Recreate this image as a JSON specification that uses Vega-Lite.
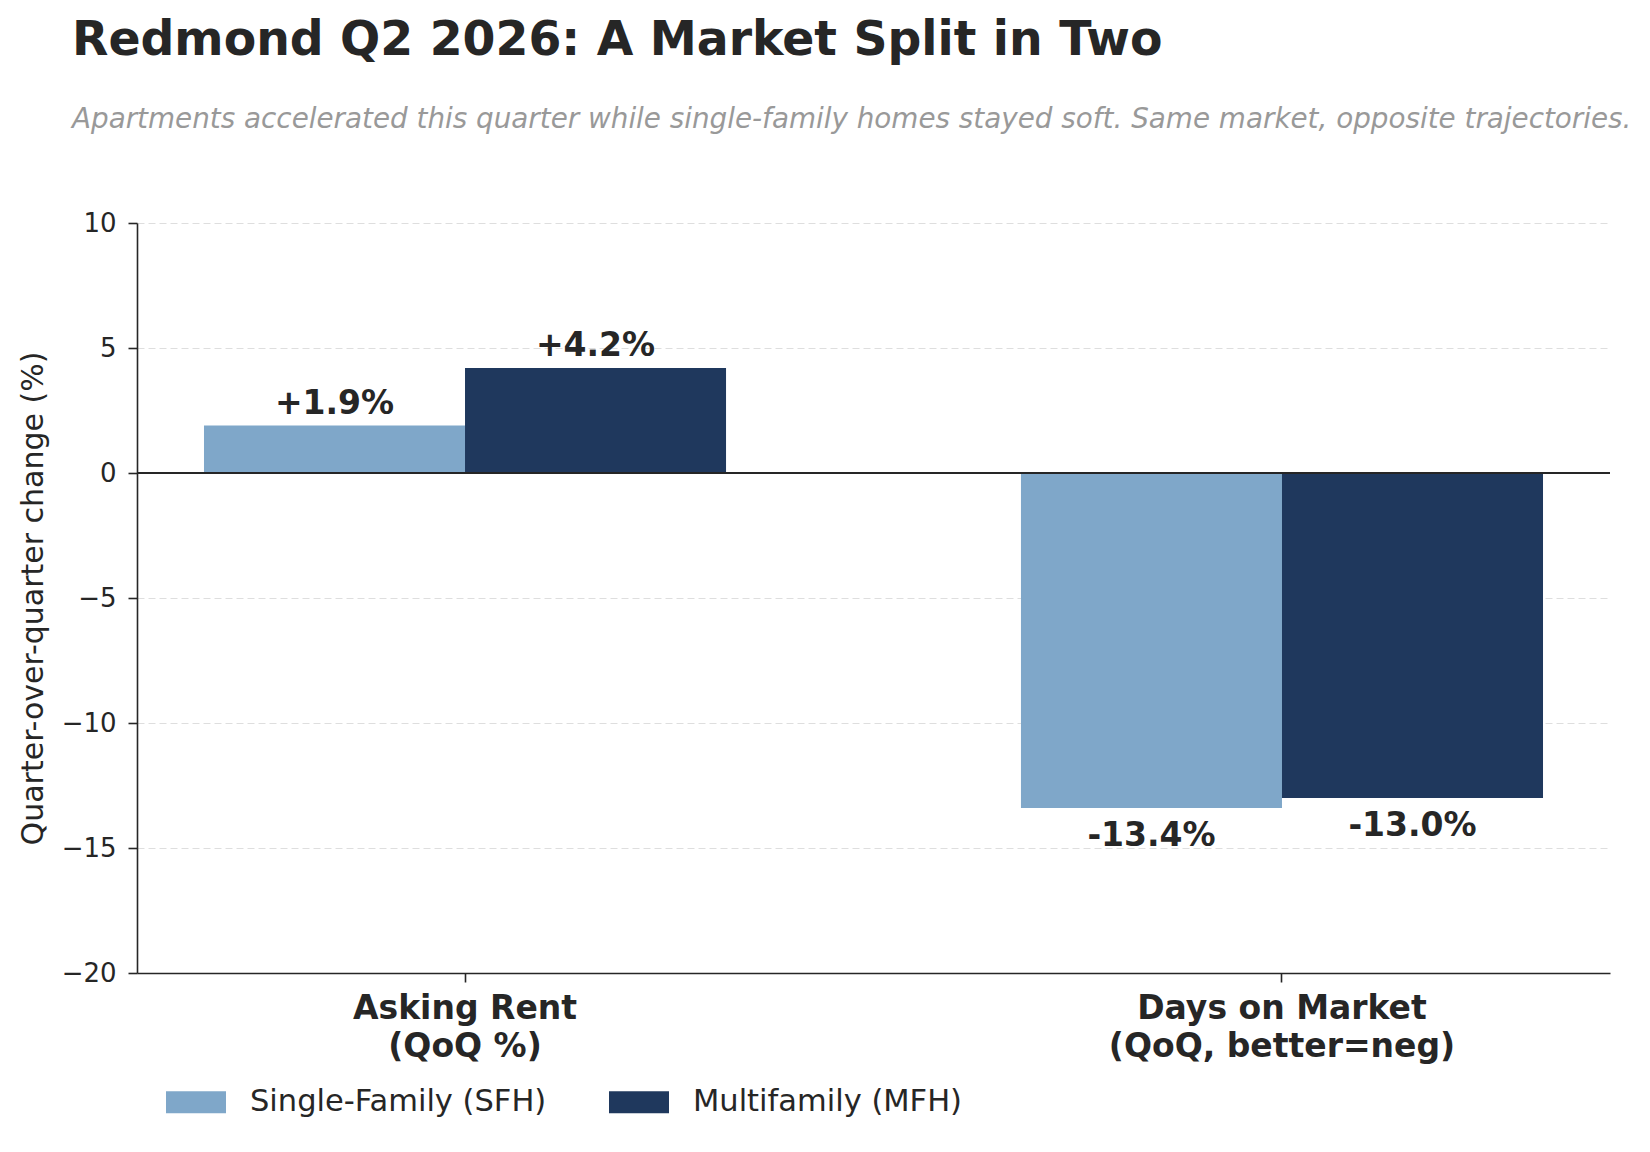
{
  "$schema": "https://vega.github.io/schema/vega-lite/v6.json",
  "autosize": {"type": "none"},
  "width": 1473,
  "height": 750,
  "padding": {"left": 137, "top": 223, "right": 40, "bottom": 179},
  "background": "white",
  "title": {
    "text": "Redmond Q2 2026: A Market Split in Two",
    "subtitle": "Apartments accelerated this quarter while single-family homes stayed soft. Same market, opposite trajectories.",
    "anchor": "start",
    "frame": "group",
    "dx": -65,
    "offset": 75,
    "font": "DejaVu Sans",
    "fontSize": 47.3,
    "fontWeight": "bold",
    "color": "#262626",
    "subtitleFont": "DejaVu Sans",
    "subtitleFontSize": 27.8,
    "subtitleFontStyle": "italic",
    "subtitleColor": "#999999",
    "subtitlePadding": 41
  },
  "data": {
    "values": [
      {"metric": "Asking Rent\n(QoQ %)", "segment": "Single-Family (SFH)", "change": 1.9},
      {"metric": "Asking Rent\n(QoQ %)", "segment": "Multifamily (MFH)", "change": 4.2},
      {"metric": "Days on Market\n(QoQ, better=neg)", "segment": "Single-Family (SFH)", "change": -13.4},
      {"metric": "Days on Market\n(QoQ, better=neg)", "segment": "Multifamily (MFH)", "change": -13.0}
    ]
  },
  "config": {
    "view": {"stroke": null},
    "font": "DejaVu Sans",
    "axis": {
      "domainColor": "#262626",
      "domainWidth": 1.6,
      "tickColor": "#262626",
      "tickWidth": 1.6,
      "tickSize": 9,
      "labelColor": "#262626",
      "titleColor": "#262626",
      "labelFont": "DejaVu Sans",
      "titleFont": "DejaVu Sans",
      "labelLimit": 0
    }
  },
  "encoding": {
    "x": {
      "field": "metric",
      "type": "nominal",
      "sort": null,
      "scale": {"paddingInner": 0.361, "paddingOuter": 0.082},
      "axis": {
        "title": null,
        "labelAngle": 0,
        "labelFontSize": 33,
        "labelFontWeight": "bold",
        "labelLineHeight": 38,
        "labelPadding": 10,
        "labelExpr": "split(datum.value, '\\n')",
        "grid": false
      }
    },
    "xOffset": {
      "field": "segment",
      "type": "nominal",
      "sort": ["Single-Family (SFH)", "Multifamily (MFH)"],
      "scale": {"paddingInner": 0, "paddingOuter": 0}
    },
    "y": {
      "field": "change",
      "type": "quantitative",
      "scale": {"domain": [-20, 10], "nice": false, "zero": false},
      "axis": {
        "title": "Quarter-over-quarter change (%)",
        "titleFontSize": 30,
        "titleFontWeight": "normal",
        "titlePadding": 13,
        "labelFontSize": 26,
        "labelPadding": 12,
        "values": [-20, -15, -10, -5, 0, 5, 10],
        "grid": true,
        "gridColor": "#dedede",
        "gridDash": [7, 4],
        "gridWidth": 1
      }
    }
  },
  "layer": [
    {
      "mark": {"type": "bar"},
      "encoding": {
        "color": {
          "field": "segment",
          "type": "nominal",
          "scale": {
            "domain": ["Single-Family (SFH)", "Multifamily (MFH)"],
            "range": ["#7fa7c9", "#1f385d"]
          },
          "legend": {
            "title": null,
            "orient": "none",
            "direction": "horizontal",
            "columns": 2,
            "legendX": 29,
            "legendY": 849,
            "symbolType": "M-1,-0.367H1V0.367H-1Z",
            "symbolSize": 3600,
            "symbolStrokeWidth": 0,
            "labelFontSize": 30.5,
            "labelColor": "#262626",
            "labelOffset": 24,
            "labelLimit": 1000,
            "columnPadding": 62
          }
        }
      }
    },
    {
      "mark": {"type": "rule", "color": "#262626", "strokeWidth": 1.6},
      "encoding": {"y": {"datum": 0}, "x": {"value": 0}, "x2": {"value": 1473}, "xOffset": null}
    },
    {
      "transform": [
        {"filter": "datum.change > 0"},
        {"calculate": "'+' + format(datum.change, '.1f') + '%'", "as": "label"}
      ],
      "mark": {"type": "text", "baseline": "alphabetic", "dy": -12, "fontSize": 33, "fontWeight": "bold", "color": "#262626"},
      "encoding": {"text": {"field": "label"}}
    },
    {
      "transform": [
        {"filter": "datum.change < 0"},
        {"calculate": "'-' + format(abs(datum.change), '.1f') + '%'", "as": "label"}
      ],
      "mark": {"type": "text", "baseline": "top", "dy": 12, "fontSize": 33, "fontWeight": "bold", "color": "#262626"},
      "encoding": {"text": {"field": "label"}}
    }
  ]
}
